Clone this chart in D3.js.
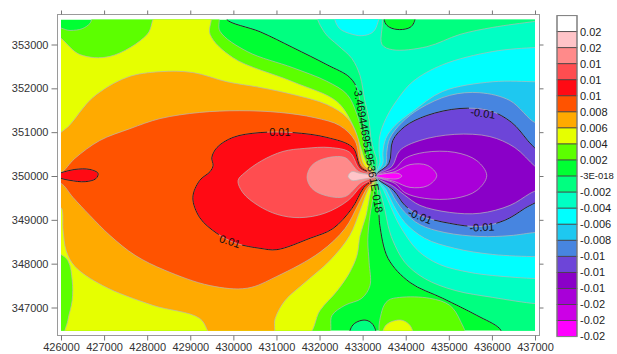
<!DOCTYPE html>
<html>
<head>
<meta charset="utf-8">
<script src="https://cdn.jsdelivr.net/npm/d3@7"></script>
<style>
  body { margin: 0; background: #fff; }
  svg { display: block; font-family: "Liberation Sans", Arial, sans-serif; }
</style>
</head>
<body>
<div id="chart"></div>
<script>
const W = 617, H = 354;

// contour levels and legend
const levels = [-0.018, -0.016, -0.014, -0.012, -0.01, -0.008, -0.006, -0.004, -0.002, 0,
                0.002, 0.004, 0.006, 0.008, 0.01, 0.012, 0.014, 0.016, 0.018];
const legendLabels = ["0.02", "0.02", "0.01", "0.01", "0.01", "0.008", "0.006", "0.004", "0.002", "-3E-018",
                      "-0.002", "-0.004", "-0.006", "-0.008", "-0.01", "-0.01", "-0.01", "-0.02", "-0.02", "-0.02"];
// band colours, lowest band first
const bandColors = ["#ff00ff", "#cc00e6", "#a800d8", "#8a00c8", "#6d45d8", "#4785e0", "#1ec8f0", "#00ffff", "#00ffc4", "#00ff80",
                    "#00ff33", "#5cff00", "#e6ff00", "#ffaa00", "#ff5300", "#ff0a14", "#ff4d50", "#ff8a8a", "#ffc4c8", "#ffffff"];
const xTicks = [426000, 427000, 428000, 429000, 430000, 431000, 432000, 433000, 434000, 435000, 436000, 437000];
const yTicks = [347000, 348000, 349000, 350000, 351000, 352000, 353000];
const gridX = [426000, 437000];
const gridY = [346470, 353570];

// contour rings, [easting, northing]
// positive rings hold values >= level, negative rings values <= level
const r_p002 = [[425800,353360],[426210,353320],[426490,353360],[426670,353480],[426790,353700],[429620,353700],[429690,353300],[430320,352840],[431380,352470],[432170,352160],[432640,351860],[432870,351400],[433010,350860],[433120,350350],[433310,350000],[433260,349620],[433170,349100],[433120,348530],[433150,348030],[433170,347500],[432980,347210],[432590,347050],[432290,346820],[432170,346300],[425800,346300]];
const r_p002b = [[433450,346300],[433450,346930],[433590,347160],[433860,347230],[434560,347210],[435020,347050],[435260,346710],[435370,346300]];
const r_p004 = [[425800,353230],[426440,352770],[427140,352730],[428000,353230],[428230,353700],[429460,353700],[429460,353230],[429990,352700],[431380,352150],[432400,351700],[432770,351170],[432940,350700],[433080,350310],[433310,350000],[433190,349650],[433080,349100],[432940,348640],[432870,348190],[432700,347800],[432400,347370],[432010,346930],[431660,346300],[426120,346300],[426160,346710],[426260,347160],[426260,347620],[426160,348070],[425800,348420]];
const r_p004b = [[433470,346300],[433520,346570],[433680,346680],[433910,346710],[434100,346590],[434170,346300]];
const r_p006 = [[425800,350760],[426210,351170],[426740,351790],[427530,352250],[428300,352380],[429060,352360],[429850,352150],[430620,352020],[431380,351860],[432170,351630],[432640,351330],[432870,350920],[433030,350260],[433310,350000],[433120,349670],[432940,349210],[432700,348640],[432240,348070],[431660,347570],[431200,347160],[430970,346750],[430900,346300],[429550,346300],[429220,346750],[428130,347050],[426970,347500],[426320,347940],[426120,348300],[426050,348760],[426000,349280],[425800,349280]];
const r_p008 = [[425800,350080],[426000,350080],[426320,350400],[426900,350810],[427600,351080],[428300,351310],[429220,351450],[430150,351490],[431080,351450],[431890,351330],[432470,351150],[432820,350810],[432980,350240],[433310,350000],[433080,349690],[432890,349330],[432590,348800],[432010,348260],[431010,347710],[430320,347440],[429460,347500],[428410,347850],[427720,348190],[427140,348640],[426670,349100],[426280,349510],[426000,349830],[425800,349830]];
const r_p010 = [[433310,350000],[432960,350190],[432770,350650],[432170,350880],[431380,350990],[430620,350990],[429990,350880],[429620,350650],[429500,350420],[429530,350240],[429460,350100],[429220,349900],[429060,349510],[429220,349050],[429620,348690],[430080,348460],[430620,348350],[431010,348320],[431780,348580],[432310,348800],[432750,349260],[433030,349740]];
const r_p010b = [[425800,350010],[426020,350080],[426320,350150],[426670,350150],[426860,350060],[426810,349940],[426560,349870],[426210,349900],[426020,349940]];
const r_p012 = [[433310,350000],[432940,350150],[432700,350540],[432240,350650],[431660,350630],[431150,350560],[430660,350350],[430270,350080],[430110,349900],[430220,349620],[430570,349330],[431030,349120],[431540,349050],[432120,349150],[432660,349440],[432980,349780]];
const r_p014 = [[433310,350000],[432910,350100],[432590,350420],[432120,350400],[431820,350240],[431710,349970],[431820,349720],[432120,349560],[432590,349530],[432960,349850]];
const r_p016 = [[433310,350000],[432940,350060],[432750,350100],[432660,349990],[432750,349900],[432960,349920]];
const r_n000 = [[429850,353700],[429850,353570],[430620,353290],[431380,352930],[432170,352540],[432700,352250],[432890,351950],[432960,351490],[433080,350920],[433190,350400],[433310,350000],[433350,349600],[433380,349100],[433400,348870],[433590,348120],[434100,347570],[434860,347210],[435650,346820],[436180,346520],[436300,346300],[437200,346300],[437200,353700]];
const r_bump = [[433520,353700],[433520,353500],[433630,353390],[433860,353340],[434100,353390],[434190,353500],[434210,353700]];
const r_pit = [[432700,346300],[432750,346570],[432890,346680],[433080,346710],[433240,346610],[433310,346300]];
const r_n002 = [[431960,353700],[432120,353270],[432430,352980],[432750,352680],[432940,352290],[433050,351720],[433150,351270],[433190,350880],[433260,350580],[433330,350350],[433310,350000],[433400,349670],[433520,349210],[433590,348870],[433700,348530],[433980,348030],[434440,347660],[435140,347390],[436020,347230],[437000,347090],[437200,347090],[437200,353550],[436950,353520],[436020,353390],[435260,353230],[434490,352950],[433700,352880],[433450,353000],[433400,353700]];
const r_n004 = [[437200,352930],[437000,352930],[436020,352840],[434860,352540],[434160,352150],[433790,351720],[433540,351310],[433400,350920],[433380,350580],[433400,350310],[433310,350000],[433490,349670],[433660,349280],[433860,348870],[434280,348300],[434790,347980],[435490,347800],[436020,347730],[437000,347660],[437200,347660]];
const r_n004b = [[432360,353700],[432360,353550],[432470,353360],[432700,353250],[432980,353200],[433220,353270],[433330,353430],[433350,353700]];
const r_n006 = [[437200,352150],[437000,352150],[436020,352150],[434860,351930],[434160,351470],[433750,351150],[433540,350860],[433470,350540],[433470,350290],[433310,350000],[433540,349690],[433720,349330],[433980,348940],[434440,348580],[435140,348350],[436020,348210],[437000,348160],[437200,348160]];
const r_n008 = [[437200,351220],[437000,351220],[436420,351720],[435720,351900],[435020,351840],[434330,351540],[433910,351220],[433630,350860],[433560,350540],[433540,350260],[433310,350000],[433590,349740],[433770,349440],[433980,349170],[434330,348890],[434910,348710],[435720,348620],[436420,348640],[437000,348710],[437200,348710]];
const r_n010 = [[433310,350000],[433610,350290],[433700,350810],[433980,351130],[434490,351380],[435260,351540],[435950,351490],[436460,351220],[436830,350810],[437200,350350],[437200,349560],[436760,349260],[436300,348990],[435720,348850],[435020,348920],[434330,349100],[433980,349330],[433720,349670]];
const r_n012 = [[433310,350000],[433680,350220],[433860,350580],[434330,350810],[435140,350950],[435950,350900],[436530,350650],[437000,350220],[437200,350080],[437200,349780],[436880,349600],[436420,349330],[435720,349150],[435020,349170],[434330,349330],[433980,349560],[433720,349760]];
const r_n014 = [[433310,350000],[433750,350170],[433980,350400],[434440,350540],[435140,350540],[435650,350350],[435880,350010],[435650,349670],[435140,349490],[434440,349490],[433980,349620],[433750,349830]];
const r_n016 = [[433310,350000],[433750,350100],[434100,350260],[434510,350240],[434720,350010],[434510,349780],[434100,349740],[433750,349870]];
const r_n018 = [[433310,350000],[433590,350060],[433820,350060],[433910,350000],[433820,349940],[433590,349940]];

// contour line labels: text, [easting, northing], angle
const lineLabels = [
  ["0.01", [431080, 350990], 0],
  ["0.01", [429920, 348510], 18],
  ["-0.01", [435790, 351430], 8],
  ["-0.01", [434330, 349080], 22],
  ["-0.01", [435770, 348830], -3],
  ["-3.46944695195361E-018", [433130, 350600], 80]
];

const rings = [
  { level: 0.002, sign: 1, pts: r_p002 }, { level: 0.002, sign: 1, pts: r_p002b },
  { level: 0.004, sign: 1, pts: r_p004 }, { level: 0.004, sign: 1, pts: r_p004b },
  { level: 0.006, sign: 1, pts: r_p006 }, { level: 0.008, sign: 1, pts: r_p008 },
  { level: 0.01, sign: 1, pts: r_p010 }, { level: 0.01, sign: 1, pts: r_p010b },
  { level: 0.012, sign: 1, pts: r_p012 }, { level: 0.014, sign: 1, pts: r_p014 },
  { level: 0.016, sign: 1, pts: r_p016 },
  { level: 0, sign: -1, pts: r_n000 }, { level: 0, sign: 1, pts: r_bump }, { level: 0, sign: -1, pts: r_pit },
  { level: -0.002, sign: -1, pts: r_n002 },
  { level: -0.004, sign: -1, pts: r_n004 }, { level: -0.004, sign: -1, pts: r_n004b },
  { level: -0.006, sign: -1, pts: r_n006 }, { level: -0.008, sign: -1, pts: r_n008 },
  { level: -0.01, sign: -1, pts: r_n010 }, { level: -0.012, sign: -1, pts: r_n012 },
  { level: -0.014, sign: -1, pts: r_n014 }, { level: -0.016, sign: -1, pts: r_n016 },
  { level: -0.018, sign: -1, pts: r_n018 }
];

const x = d3.scaleLinear().domain([426000, 437000]).range([61, 535]);
const y = d3.scaleLinear().domain([347000, 353000]).range([307.5, 44.5]);
const color = d3.scaleThreshold().domain(levels).range(bandColors);

const svg = d3.select("#chart").append("svg").attr("width", W).attr("height", H);
const defs = svg.append("defs");

const px0 = x(gridX[0]), px1 = x(gridX[1]), py0 = y(gridY[1]), py1 = y(gridY[0]);
defs.append("clipPath").attr("id", "plot")
  .append("rect").attr("x", px0).attr("y", py0).attr("width", px1 - px0).attr("height", py1 - py0);

const mask = defs.append("mask").attr("id", "gaps").attr("maskUnits", "userSpaceOnUse")
  .attr("x", 0).attr("y", 0).attr("width", W).attr("height", H);
mask.append("rect").attr("width", W).attr("height", H).attr("fill", "#fff");

const line = d3.line()
  .x(d => x(d[0])).y(d => y(d[1]))
  .curve(d3.curveCatmullRomClosed.alpha(0.5));

const map = svg.append("g").attr("clip-path", "url(#plot)");
map.append("rect").attr("x", px0).attr("y", py0).attr("width", px1 - px0).attr("height", py1 - py0)
  .attr("fill", color(0.001));

map.selectAll("path.band").data(rings).join("path")
  .attr("class", "band")
  .attr("d", d => line(d.pts))
  .attr("fill", d => color(d.level + d.sign * 0.001))
  .attr("stroke", "#b8b8b8")
  .attr("stroke-width", 0.7);

// labelled contours (0 and +/-0.01) in black
map.append("g").attr("mask", "url(#gaps)")
  .selectAll("path").data(rings.filter(d => Math.abs(d.level) < 1e-9 || Math.abs(Math.abs(d.level) - 0.01) < 1e-9))
  .join("path")
  .attr("d", d => line(d.pts))
  .attr("fill", "none")
  .attr("stroke", "#000")
  .attr("stroke-width", 0.8);

const lbl = svg.append("g").attr("font-size", 11).attr("fill", "#111");
lineLabels.forEach(([t, p, a]) => {
  const cx = x(p[0]), cy = y(p[1]);
  const txt = lbl.append("text")
    .attr("transform", `translate(${cx},${cy}) rotate(${a})`)
    .attr("text-anchor", "middle").attr("dy", "0.35em")
    .text(t);
  const len = txt.node().getComputedTextLength();
  mask.append("rect")
    .attr("transform", `translate(${cx},${cy}) rotate(${a})`)
    .attr("x", -len / 2 - 2).attr("y", -5).attr("width", len + 4).attr("height", 10)
    .attr("fill", "#000");
});

// frame and axes
const fx0 = 57.5, fx1 = 539.5, fy0 = 14.5, fy1 = 335.5;
svg.append("rect").attr("x", fx0).attr("y", fy0).attr("width", fx1 - fx0).attr("height", fy1 - fy0)
  .attr("fill", "none").attr("stroke", "#9a9a9a").attr("stroke-width", 1);

function styleAxis(g) {
  g.select(".domain").remove();
  g.selectAll(".tick line").attr("stroke", "#777");
  g.selectAll(".tick text").attr("fill", "#333").attr("font-size", 11)
    .attr("font-family", "Liberation Sans, Arial, sans-serif");
}
svg.append("g").attr("transform", `translate(0,${fy1})`)
  .call(d3.axisBottom(x).tickValues(xTicks).tickFormat(d3.format("d")).tickSize(5).tickPadding(3))
  .call(styleAxis);
svg.append("g").attr("transform", `translate(0,${fy0})`)
  .call(d3.axisTop(x).tickValues(xTicks).tickFormat("").tickSize(4))
  .call(styleAxis);
svg.append("g").attr("transform", `translate(${fx0},0)`)
  .call(d3.axisLeft(y).tickValues(yTicks).tickFormat(d3.format("d")).tickSize(6).tickPadding(3))
  .call(styleAxis);
svg.append("g").attr("transform", `translate(${fx1},0)`)
  .call(d3.axisRight(y).tickValues(yTicks).tickFormat("").tickSize(4))
  .call(styleAxis);

// colour scale legend
const lgX = 557, lgTop = 15.6, lgStep = 16.05, lgW = 20;
const legendColors = bandColors.slice().reverse();
const lg = svg.append("g");
lg.selectAll("rect").data(legendColors).join("rect")
  .attr("x", lgX).attr("y", (d, i) => lgTop + i * lgStep)
  .attr("width", lgW).attr("height", lgStep)
  .attr("fill", d => d).attr("stroke", "#444").attr("stroke-width", 0.8);
lg.append("rect").attr("x", lgX).attr("y", lgTop).attr("width", lgW).attr("height", lgStep * 20)
  .attr("fill", "none").attr("stroke", "#888").attr("stroke-width", 1);
lg.selectAll("text").data(legendLabels).join("text")
  .attr("x", lgX + lgW + 3).attr("y", (d, i) => lgTop + (i + 1) * lgStep)
  .attr("dy", "0.35em").attr("font-size", 11).attr("fill", "#222")
  .text(d => d)
  .each(function () {
    // shrink a label that would run past the page edge
    const room = W - 3 - (lgX + lgW + 3);
    let fs = 11;
    while (this.getComputedTextLength() > room && fs > 7) {
      fs -= 0.5;
      d3.select(this).attr("font-size", fs);
    }
  });
</script>
</body>
</html>
